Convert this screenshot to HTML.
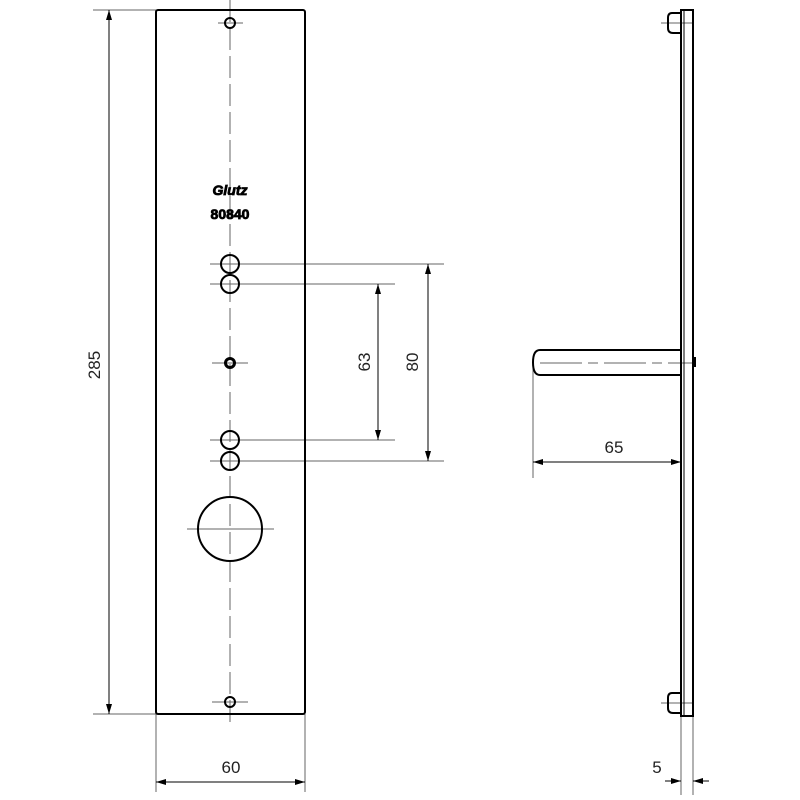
<!DOCTYPE html>
<html><head><meta charset="utf-8"><style>body{margin:0;background:#fff}svg{display:block}</style></head><body>
<svg width="800" height="800" viewBox="0 0 800 800" xmlns="http://www.w3.org/2000/svg" font-family="Liberation Sans, sans-serif">
<defs>
<marker id="a" viewBox="0 0 10 6" refX="10" refY="3" markerWidth="10" markerHeight="6" orient="auto-start-reverse" markerUnits="userSpaceOnUse"><path d="M0,0L10,3L0,6z" fill="#000"/></marker>
</defs>
<g stroke="#666" stroke-width="1" fill="none">
<line x1="93" y1="10" x2="157" y2="10"/>
<line x1="93" y1="714" x2="157" y2="714"/>
<line x1="156" y1="714" x2="156" y2="792"/>
<line x1="305" y1="714" x2="305" y2="792"/>
<line x1="210" y1="264" x2="444" y2="264"/>
<line x1="210" y1="284" x2="395" y2="284"/>
<line x1="210" y1="440" x2="395" y2="440"/>
<line x1="210" y1="461" x2="444" y2="461"/>
<line x1="533" y1="365" x2="533" y2="478"/>
<line x1="681" y1="716" x2="681" y2="795"/>
<line x1="693" y1="716" x2="693" y2="795"/>
<line x1="230" y1="0" x2="230" y2="725" stroke-dasharray="22,6"/>
<line x1="218" y1="23" x2="243" y2="23"/>
<line x1="212" y1="363" x2="248" y2="363"/>
<line x1="187" y1="529" x2="274" y2="529"/>
<line x1="212" y1="702" x2="248" y2="702"/>
<line x1="540" y1="363" x2="692" y2="363" stroke-dasharray="42,6,10,6"/>
<line x1="661" y1="23" x2="692" y2="23"/>
<line x1="661" y1="703" x2="692" y2="703"/>
</g>
<g stroke="#000" stroke-width="1" fill="none">
<line x1="109" y1="10" x2="109" y2="714" marker-start="url(#a)" marker-end="url(#a)"/>
<line x1="156" y1="782" x2="305" y2="782" marker-start="url(#a)" marker-end="url(#a)"/>
<line x1="378" y1="284" x2="378" y2="440" marker-start="url(#a)" marker-end="url(#a)"/>
<line x1="428" y1="264" x2="428" y2="461" marker-start="url(#a)" marker-end="url(#a)"/>
<line x1="533" y1="462" x2="681" y2="462" marker-start="url(#a)" marker-end="url(#a)"/>
<line x1="665" y1="781" x2="681" y2="781" marker-end="url(#a)"/>
<line x1="709" y1="781" x2="693" y2="781" marker-end="url(#a)"/>
</g>
<g stroke="#000" stroke-width="2" fill="none">
<rect x="156" y="10" width="149" height="704" rx="2"/>
<circle cx="230" cy="23" r="5"/>
<circle cx="230" cy="264" r="9"/>
<circle cx="230" cy="284" r="9"/>
<circle cx="230" cy="363" r="4.5" stroke-width="3"/>
<circle cx="230" cy="440" r="9"/>
<circle cx="230" cy="461" r="9"/>
<circle cx="230" cy="529" r="32"/>
<circle cx="230" cy="702" r="5"/>
<rect x="681" y="10" width="12" height="706"/>
<line x1="684" y1="11" x2="684" y2="715" stroke-width="1"/>
<path d="M681,13 H672 Q668,13 668,18 V28 Q668,33 673,33 H681"/>
<path d="M681,693 H672 Q668,693 668,698 V708 Q668,713 673,713 H681"/>
<path d="M681,350 H540 Q533,350 533,362.5 Q533,375 540,375 H681"/>
</g>
<rect x="692" y="357" width="4" height="10" fill="#000"/>
<g font-size="17" fill="#222" text-anchor="middle">
<text x="231" y="773">60</text>
<text x="614" y="453">65</text>
<text x="657" y="773">5</text>
<text transform="translate(100,365) rotate(-90)">285</text>
<text transform="translate(370,362) rotate(-90)">63</text>
<text transform="translate(418,362) rotate(-90)">80</text>
</g>
<g font-size="14" font-weight="bold" fill="#000" text-anchor="middle" stroke="#000" stroke-width="0.8">
<text x="230" y="195" font-style="italic">Glutz</text>
<text x="230" y="219">80840</text>
</g>
</svg>
</body></html>
